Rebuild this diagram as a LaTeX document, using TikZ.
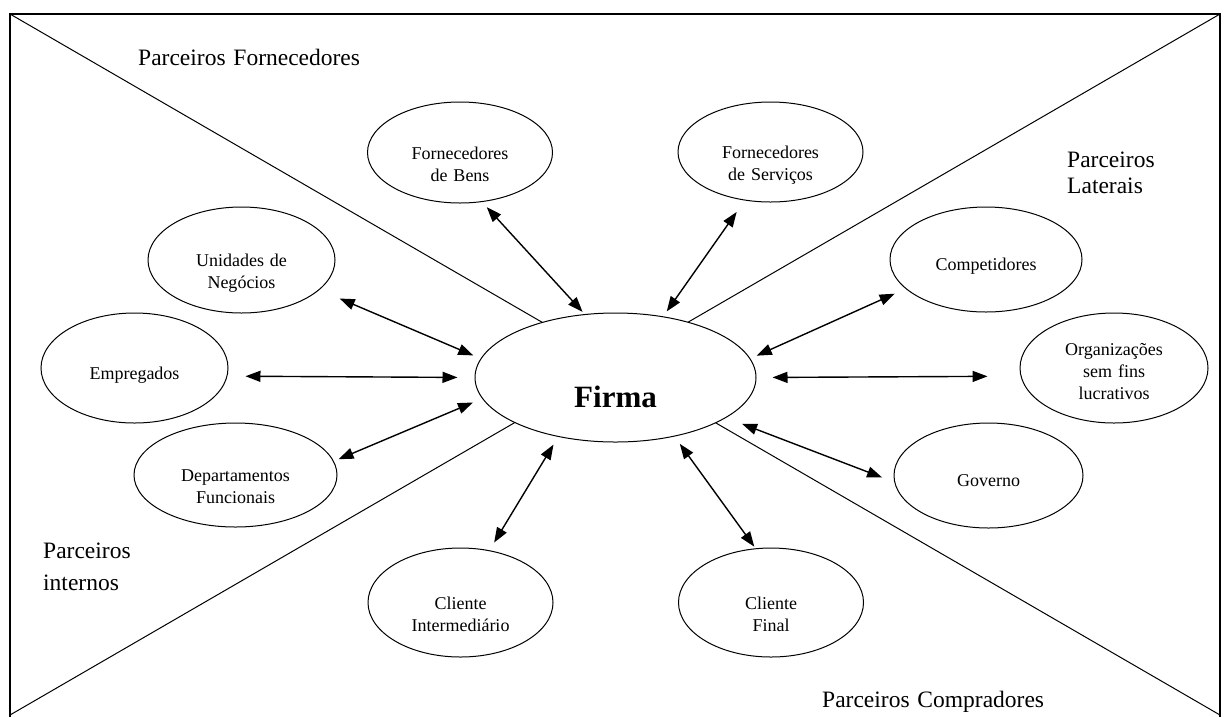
\documentclass[tikz,border=0pt]{standalone}
\usepackage{fontspec}
\setmainfont{Liberation Serif}
\usetikzlibrary{shapes.geometric,arrows.meta}

\begin{document}
\begin{tikzpicture}[x=1pt,y=-1pt,
    parceiro/.style={draw,ellipse,line width=1pt,inner sep=0pt,text width=116pt,align=center,
      font=\fontsize{18}{22}\selectfont,text height=13pt,text depth=0pt},
    umalinha/.style={text height=22pt},
    regiao/.style={inner sep=0pt,text width=240pt,align=left,font=\fontsize{23.5}{26}\selectfont},
    seta/.style={{Triangle[length=15pt,width=11pt]}-{Triangle[length=15pt,width=11pt]},line width=1.4pt}]
  \useasboundingbox (0,0) rectangle (1225,716);
  \draw [line width=1.5pt] (10,718) -- (10,14) -- (1220,14) -- (1220,718);
  \draw [line width=1pt] (10,14) -- (1220,715);
  \draw [line width=1pt] (10,715) -- (1220,14);

  \node [draw,ellipse,fill=white,line width=1pt,inner sep=0pt,minimum width=281pt,minimum height=129pt,
    font=\fontsize{31}{36}\selectfont\bfseries,text height=60.6pt,text depth=0pt] (firma) at (615.5,377.5) {Firma};

  \node [parceiro,minimum width=185pt,minimum height=101pt] (bens) at (460,152.5) {Fornecedores\\de Bens};
  \node [parceiro,minimum width=185pt,minimum height=100pt] (servicos) at (770.5,152) {Fornecedores\\de Serviços};
  \node [parceiro,minimum width=187pt,minimum height=106pt] (unidades) at (241.5,260) {Unidades de\\Negócios};
  \node [parceiro,umalinha,minimum width=187pt,minimum height=110pt] (empregados) at (134.5,368) {Empregados};
  \node [parceiro,minimum width=203pt,minimum height=104pt] (departamentos) at (235.5,475) {Departamentos\\Funcionais};
  \node [parceiro,umalinha,minimum width=192pt,minimum height=105pt] (competidores) at (986,259.5) {Competidores};
  \node [parceiro,text height=0pt,text depth=25pt,minimum width=188pt,minimum height=110pt] (organizacoes) at (1114,368) {Organizações\\sem fins\\lucrativos};
  \node [parceiro,umalinha,minimum width=189pt,minimum height=105pt] (governo) at (988.5,475.5) {Governo};
  \node [parceiro,minimum width=185pt,minimum height=109pt] (intermediario) at (460.5,602.5) {Cliente\\Intermediário};
  \node [parceiro,minimum width=185pt,minimum height=109pt] (final) at (771,602.5) {Cliente\\Final};

  \draw [seta,shorten <=7pt,shorten >=3pt] (bens.294) -- (firma.116);
  \draw [seta,shorten <=14pt,shorten >=6pt] (servicos.242) -- (firma.52);
  \draw [seta,shorten <=22pt,shorten >=8pt] (unidades.339) -- (firma.172);
  \draw [seta,shorten <=18pt,shorten >=17pt] (empregados.355) -- (firma.180);
  \draw [seta,shorten <=5pt,shorten >=10pt] (departamentos.8) -- (firma.189);
  \draw [seta,shorten <=12pt,shorten >=7pt] (competidores.200) -- (firma.8);
  \draw [seta,shorten <=33pt,shorten >=16pt] (organizacoes.185) -- (firma.0);
  \draw [seta,shorten <=13pt,shorten >=17pt] (governo.184) -- (firma.340);
  \draw [seta,shorten <=9pt,shorten >=9pt] (intermediario.61) -- (firma.226);
  \draw [seta,shorten <=2pt,shorten >=9pt] (final.106) -- (firma.315);

  \node [regiao,anchor=base west] (fornecedores) at (138,65) {Parceiros Fornecedores};
  \node [regiao,anchor=base west] (laterais) at (1067,167) {Parceiros\\Laterais};
  \node [regiao,anchor=base west] (internos) at (43,558) {Parceiros\\[6pt]internos};
  \node [regiao,anchor=base west] (compradores) at (822,707) {Parceiros Compradores};
\end{tikzpicture}
\end{document}
